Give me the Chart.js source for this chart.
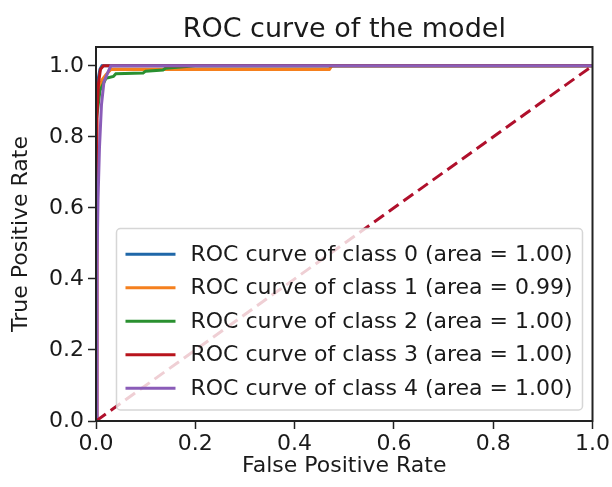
<!DOCTYPE html>
<html>
<head>
<meta charset="utf-8">
<script src="https://cdn.jsdelivr.net/npm/chart.js@4/dist/chart.umd.min.js"></script>
<style>
  html, body { margin: 0; padding: 0; background: #fff; }
  #wrap { width: 612px; height: 487px; position: relative; }
</style>
</head>
<body>
<div id="wrap"><canvas id="roc"></canvas></div>
<script>
const classLabels = [
    'ROC curve of class 0 (area = 1.00)',
    'ROC curve of class 1 (area = 0.99)',
    'ROC curve of class 2 (area = 1.00)',
    'ROC curve of class 3 (area = 1.00)',
    'ROC curve of class 4 (area = 1.00)'
];
const classColors = ['#1f67a8', '#f5801e', '#2a9030', '#b8141c', '#8a5cb8'];

// false positive rate / true positive rate per class
const fpr0 = [0, 0, 0.004, 0.008, 0.012, 1];
const tpr0 = [0, 0.88, 0.96, 0.99, 1.0, 1.0];
const fpr1 = [0, 0, 0.006, 0.012, 0.02, 0.03, 0.47, 0.475, 1];
const tpr1 = [0, 0.86, 0.93, 0.96, 0.975, 0.99, 0.99, 1.0, 1.0];
const fpr2 = [0, 0, 0.008, 0.02, 0.035, 0.04, 0.095, 0.1, 0.135, 0.14, 0.2, 1];
const tpr2 = [0, 0.84, 0.93, 0.965, 0.97, 0.978, 0.98, 0.985, 0.988, 0.993, 1.0, 1.0];
const fpr3 = [0, 0.002, 0.005, 0.009, 0.015, 1];
const tpr3 = [0, 0.86, 0.95, 0.99, 1.0, 1.0];
const fpr4 = [0, 0.002, 0.004, 0.007, 0.011, 0.016, 0.025, 0.03, 1];
const tpr4 = [0, 0.44, 0.62, 0.77, 0.89, 0.955, 0.985, 1.0, 1.0];
const chanceX = [0, 1];
const chanceY = [0, 1];

const xTicks = [0, 0.2, 0.4, 0.6, 0.8, 1.0];
const yTicks = [0, 0.2, 0.4, 0.6, 0.8, 1.0];

const FONT = "'DejaVu Sans', sans-serif";
const pts = (xs, ys) => xs.map((x, i) => ({ x, y: ys[i] }));

const curves = [
    pts(fpr0, tpr0), pts(fpr1, tpr1), pts(fpr2, tpr2), pts(fpr3, tpr3), pts(fpr4, tpr4)
];

// chart.js paints lower `order` on top, so later classes get lower order (like matplotlib)
const datasets = curves.map((data, i) => ({
    label: classLabels[i],
    data,
    order: 10 - i,
    borderColor: classColors[i],
    borderWidth: 3,
    pointRadius: 0,
    tension: 0,
    fill: false
}));
datasets.push({
    label: 'chance',
    data: pts(chanceX, chanceY),
    order: 0,
    borderColor: '#b0102c',
    borderWidth: 3,
    borderDash: [12, 6],
    pointRadius: 0,
    fill: false
});

// title, frame and in-plot legend (matplotlib style)
const mplDecor = {
    id: 'mplDecor',
    afterDatasetsDraw(chart) {
        const { ctx, chartArea: a } = chart;
        ctx.save();

        // legend, lower right inside the axes
        const rows = classLabels.length;
        const rowH = 33.5;
        ctx.font = '22px ' + FONT;
        const textW = Math.max(...classLabels.map(t => ctx.measureText(t).width));
        const padL = 9, handle = 50, gap = 15, padR = 10, padV = 8;
        const w = padL + handle + gap + textW + padR;
        const h = rows * rowH + padV * 2 - 2;
        const right = a.right - 10;
        const bottom = a.bottom - 11;
        const left = right - w;
        const top = bottom - h;
        ctx.beginPath();
        ctx.roundRect(left, top, w, h, 4);
        ctx.fillStyle = 'rgba(255,255,255,0.8)';
        ctx.fill();
        ctx.strokeStyle = 'rgba(204,204,204,0.8)';
        ctx.lineWidth = 1.5;
        ctx.stroke();
        ctx.textBaseline = 'middle';
        ctx.textAlign = 'left';
        classLabels.forEach((t, i) => {
            const y = top + padV + rowH * (i + 0.5) + 1;
            ctx.strokeStyle = classColors[i];
            ctx.lineWidth = 3;
            ctx.beginPath();
            ctx.moveTo(left + padL, y);
            ctx.lineTo(left + padL + handle, y);
            ctx.stroke();
            ctx.fillStyle = '#1a1a1a';
            ctx.fillText(t, left + padL + handle + gap, y + 1);
        });

        // axes frame
        ctx.strokeStyle = '#222';
        ctx.lineWidth = 2;
        ctx.strokeRect(a.left, a.top, a.right - a.left, a.bottom - a.top);

        // title
        ctx.fillStyle = '#1a1a1a';
        ctx.font = '27px ' + FONT;
        ctx.textAlign = 'center';
        ctx.textBaseline = 'alphabetic';
        ctx.fillText('ROC curve of the model', (a.left + a.right) / 2, 37);
        ctx.restore();
    }
};

const tickStyle = {
    display: true,
    drawOnChartArea: false,
    drawTicks: true,
    tickLength: 8,
    tickWidth: 1.5,
    tickColor: '#222'
};

new Chart(document.getElementById('roc'), {
    type: 'line',
    data: { datasets },
    options: {
        responsive: true,
        maintainAspectRatio: false,
        animation: false,
        layout: { padding: { top: 47, right: 15, left: 8, bottom: 8 } },
        plugins: {
            legend: { display: false },
            title: { display: false },
            tooltip: { enabled: false }
        },
        scales: {
            x: {
                type: 'linear',
                min: 0,
                max: 1,
                afterBuildTicks: s => { s.ticks = xTicks.map(v => ({ value: v })); },
                afterFit: s => { s.height = 58; },
                ticks: {
                    color: '#1a1a1a',
                    font: { family: FONT, size: 22 },
                    padding: 2,
                    maxRotation: 0,
                    callback: v => v.toFixed(1)
                },
                grid: tickStyle,
                border: { display: true, color: '#222', width: 2 },
                title: {
                    display: true,
                    text: 'False Positive Rate',
                    color: '#1a1a1a',
                    font: { family: FONT, size: 22 },
                    padding: { top: 0, bottom: 0 }
                }
            },
            y: {
                type: 'linear',
                min: 0,
                max: 1.053,
                afterBuildTicks: s => { s.ticks = yTicks.map(v => ({ value: v })); },
                afterFit: s => { s.width = 88; },
                ticks: {
                    color: '#1a1a1a',
                    font: { family: FONT, size: 22 },
                    padding: 4,
                    callback: v => v.toFixed(1)
                },
                grid: tickStyle,
                border: { display: true, color: '#222', width: 2 },
                title: {
                    display: true,
                    text: 'True Positive Rate',
                    color: '#1a1a1a',
                    font: { family: FONT, size: 22 },
                    padding: { top: 0, bottom: 4 }
                }
            }
        }
    },
    plugins: [mplDecor]
});
</script>
</body>
</html>
